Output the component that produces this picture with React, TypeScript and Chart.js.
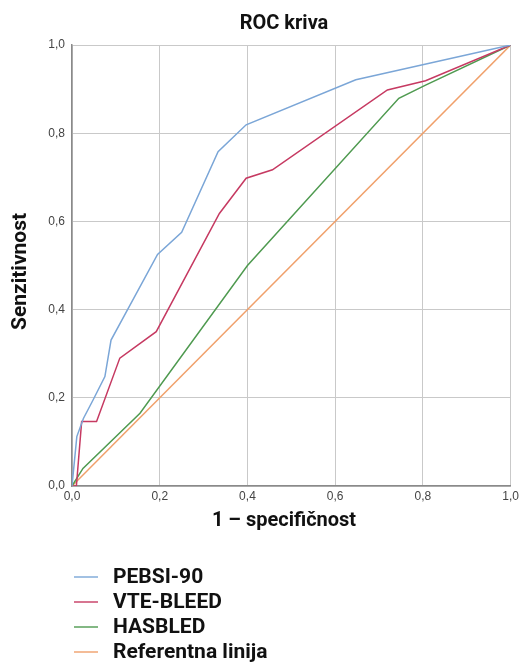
import React, { useEffect, useRef } from "react";
import { Chart, registerables } from "chart.js";

Chart.register(...registerables);

// ----- data -----
const seriesNames = ["PEBSI-90", "VTE-BLEED", "HASBLED", "Referentna linija"];
const seriesColors = ["#7ba6d7", "#c63a62", "#4f9a50", "#f0a06b"];

const pebsiX = [0, 0.011, 0.026, 0.048, 0.075, 0.089, 0.195, 0.25, 0.333, 0.397, 0.647, 1];
const pebsiY = [0, 0.112, 0.153, 0.195, 0.248, 0.331, 0.525, 0.575, 0.758, 0.819, 0.921, 1];

const vteX = [0, 0.01, 0.022, 0.056, 0.109, 0.192, 0.336, 0.397, 0.457, 0.719, 0.806, 1];
const vteY = [0, 0, 0.146, 0.146, 0.29, 0.35, 0.618, 0.698, 0.717, 0.898, 0.919, 1];

const hasbledX = [0, 0.025, 0.155, 0.4, 0.745, 0.806, 1];
const hasbledY = [0, 0.04, 0.165, 0.5, 0.879, 0.909, 1];

const refX = [0, 1];
const refY = [0, 1];

const tickValues = [0, 0.2, 0.4, 0.6, 0.8, 1.0];
const tickLabels = ["0,0", "0,2", "0,4", "0,6", "0,8", "1,0"];

const chartTitle = "ROC kriva";
const xTitle = "1 – specifičnost";
const yTitle = "Senzitivnost";

const toPoints = (xs: number[], ys: number[]) => xs.map((x, i) => ({ x, y: ys[i] }));

const FAMILY = "Roboto, 'Noto Sans', sans-serif";

const overlayPlugin = {
  id: "overlay",
  afterDraw(chart: any) {
    const ctx = chart.ctx as CanvasRenderingContext2D;
    const area = chart.chartArea;
    ctx.save();
    ctx.fillStyle = "#111111";
    ctx.textAlign = "center";
    ctx.textBaseline = "middle";
    // title
    ctx.font = `bold 20px ${FAMILY}`;
    ctx.fillText(chartTitle, 284, 24);
    // x title
    ctx.fillText(xTitle, 284, area.bottom + 35);
    // y title
    ctx.save();
    ctx.font = `bold 21px ${FAMILY}`;
    ctx.translate(21, (area.top + area.bottom) / 2 + 6);
    ctx.rotate(-Math.PI / 2);
    ctx.fillText(yTitle, 0, 0);
    ctx.restore();
    // legend
    ctx.font = `bold 21px ${FAMILY}`;
    const ds = chart.data.datasets;
    ds.forEach((d: any, i: number) => {
      const y = area.bottom + 91 + i * 25;
      ctx.strokeStyle = d.borderColor;
      ctx.globalAlpha = 0.7;
      ctx.lineWidth = 2;
      ctx.beginPath();
      ctx.moveTo(74, y);
      ctx.lineTo(98, y);
      ctx.stroke();
      ctx.globalAlpha = 1;
      ctx.textAlign = "left";
      ctx.fillStyle = "#111111";
      ctx.fillText(d.label, 113, y + 1);
    });
    ctx.restore();
  },
};

export default function App() {
  const ref = useRef<HTMLCanvasElement | null>(null);
  useEffect(() => {
    document.body.style.margin = "0";
    const canvas = ref.current!;
    const all = [
      toPoints(pebsiX, pebsiY),
      toPoints(vteX, vteY),
      toPoints(hasbledX, hasbledY),
      toPoints(refX, refY),
    ];
    const chart = new Chart(canvas, {
      type: "line",
      data: {
        datasets: all.map((pts, i) => ({
          label: seriesNames[i],
          data: pts,
          borderColor: seriesColors[i],
          backgroundColor: seriesColors[i],
          borderWidth: 1.5,
          pointRadius: 0,
          tension: 0,
          fill: false,
        })),
      },
      options: {
        animation: false,
        responsive: false,
        layout: { padding: { left: 0, right: 10, top: 45, bottom: 148 } },
        plugins: {
          legend: { display: false },
          title: { display: false },
          tooltip: { enabled: false },
        },
        scales: {
          x: {
            type: "linear",
            min: 0,
            max: 1,
            afterFit: (s: any) => {
              s.height = 30;
            },
            afterBuildTicks: (s: any) => {
              s.ticks = tickValues.map((v) => ({ value: v }));
            },
            ticks: {
              padding: 3,
              color: "#444444",
              font: { family: "'Liberation Sans', Arial, sans-serif", size: 12 },
              callback: (_v: any, i: number) => tickLabels[i],
              maxRotation: 0,
            },
            grid: { color: "#c9c9c9", lineWidth: 1, drawTicks: false },
            border: { display: true, color: "#8a8a8a", width: 1.5 },
          },
          y: {
            type: "linear",
            min: 0,
            max: 1,
            afterFit: (s: any) => {
              s.width = 72;
            },
            afterBuildTicks: (s: any) => {
              s.ticks = tickValues.map((v) => ({ value: v }));
            },
            ticks: {
              padding: 7,
              color: "#444444",
              font: { family: "'Liberation Sans', Arial, sans-serif", size: 12 },
              callback: (_v: any, i: number) => tickLabels[i],
            },
            grid: { color: "#c9c9c9", lineWidth: 1, drawTicks: false },
            border: { display: true, color: "#8a8a8a", width: 1.5 },
          },
        },
      },
      plugins: [overlayPlugin],
    });
    return () => chart.destroy();
  }, []);
  return (
    <div style={{ width: 522, height: 664, background: "#ffffff" }}>
      <canvas ref={ref} width={522} height={664} style={{ display: "block" }} />
    </div>
  );
}
